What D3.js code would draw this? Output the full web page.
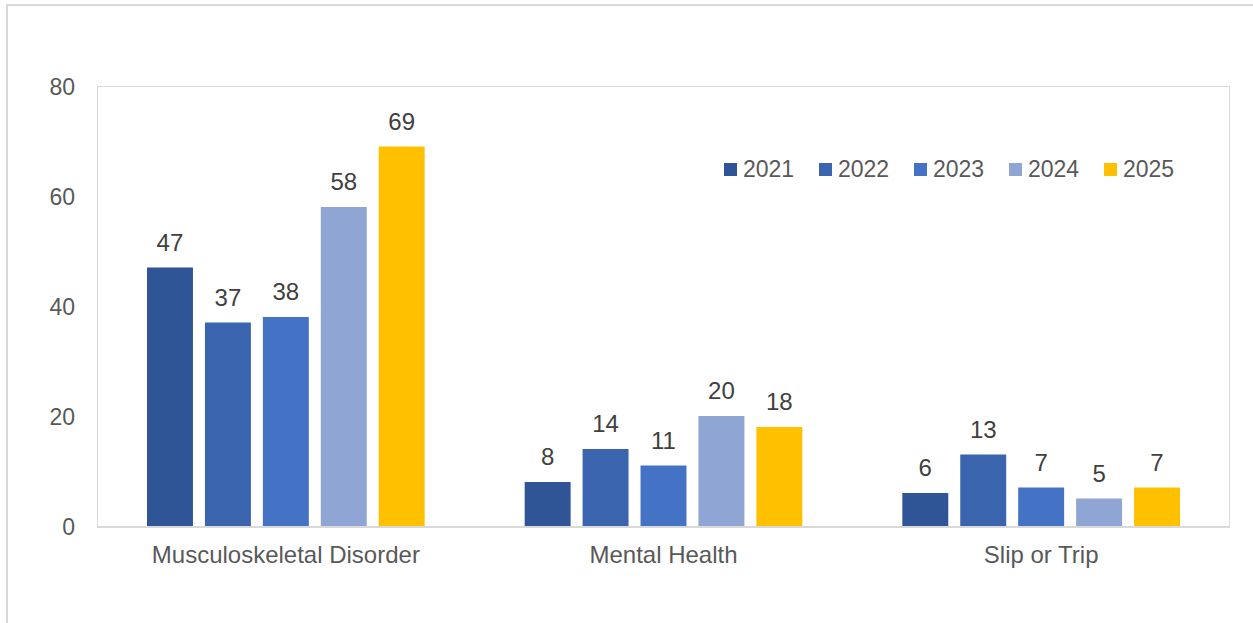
<!DOCTYPE html>
<html>
<head>
<meta charset="utf-8">
<script src="https://cdn.jsdelivr.net/npm/d3@7"></script>
<style>
  html, body { margin: 0; padding: 0; background: #fff; }
  svg { display: block; font-family: "Liberation Sans", Arial, sans-serif; }
</style>
</head>
<body>
<svg id="chart" width="1253" height="623"></svg>
<script>
// Incident counts by category and year
const categories = ["Musculoskeletal Disorder", "Mental Health", "Slip or Trip"];
const years = ["2021", "2022", "2023", "2024", "2025"];
const values2021 = [47, 8, 6];
const values2022 = [37, 14, 13];
const values2023 = [38, 11, 7];
const values2024 = [58, 20, 5];
const values2025 = [69, 18, 7];
const yTicks = [0, 20, 40, 60, 80];
const colors = ["#2F5597", "#3A64AD", "#4472C4", "#8FA5D4", "#FFC000"];

const seriesValues = [values2021, values2022, values2023, values2024, values2025];
const rows = categories.map((c, i) => ({
  category: c,
  values: years.map((y, j) => ({ year: y, value: seriesValues[j][i], color: colors[j] }))
}));

const svg = d3.select("#chart");
const plot = { left: 97, right: 1230, top: 86, bottom: 526 };

// Outer chart frame
svg.append("path")
  .attr("d", `M7,623 L7,5 L1253,5`)
  .attr("fill", "none")
  .attr("stroke", "#d9d9d9")
  .attr("stroke-width", 2);

const x0 = d3.scaleBand().domain(categories).range([plot.left, plot.right]).padding(0);
const gapHalf = 50;
const x1 = d3.scaleBand().domain(years)
  .range([gapHalf, x0.bandwidth() - gapHalf])
  .paddingInner(12 / 58).paddingOuter(0);
const y = d3.scaleLinear().domain([0, 80]).range([plot.bottom, plot.top]);

// Plot area border
svg.append("rect")
  .attr("x", plot.left + 0.5).attr("y", plot.top + 0.5)
  .attr("width", plot.right - plot.left - 1).attr("height", plot.bottom - plot.top)
  .attr("fill", "none").attr("stroke", "#d9d9d9").attr("stroke-width", 1);

// Y axis labels
const yAxis = d3.axisLeft(y).tickValues(yTicks).tickSize(0).tickPadding(0);
const yg = svg.append("g").attr("transform", `translate(75,0)`).call(yAxis);
yg.select(".domain").remove();
yg.selectAll("text")
  .attr("fill", "#595959").attr("font-size", 23)
  .attr("font-family", "Liberation Sans, Arial, sans-serif")
  .attr("dy", "0.35em");

// Bars
const groups = svg.append("g").selectAll("g").data(rows).join("g")
  .attr("transform", d => `translate(${x0(d.category)},0)`);

groups.selectAll("rect").data(d => d.values).join("rect")
  .attr("x", d => x1(d.year))
  .attr("y", d => y(d.value))
  .attr("width", x1.bandwidth())
  .attr("height", d => y(0) - y(d.value))
  .attr("fill", d => d.color);

groups.selectAll("text.val").data(d => d.values).join("text")
  .attr("class", "val")
  .attr("x", d => x1(d.year) + x1.bandwidth() / 2)
  .attr("y", d => y(d.value) - 17)
  .attr("text-anchor", "middle")
  .attr("fill", "#404040")
  .attr("font-size", 24)
  .text(d => d.value);

// X axis line and category labels
svg.append("line")
  .attr("x1", plot.left).attr("x2", plot.right)
  .attr("y1", plot.bottom + 1).attr("y2", plot.bottom + 1)
  .attr("stroke", "#d9d9d9").attr("stroke-width", 2);

const xAxis = d3.axisBottom(x0).tickSize(0).tickPadding(0);
const xg = svg.append("g").attr("transform", `translate(0,${plot.bottom})`).call(xAxis);
xg.select(".domain").remove();
xg.selectAll("text")
  .attr("fill", "#595959").attr("font-size", 24)
  .attr("font-family", "Liberation Sans, Arial, sans-serif")
  .attr("dy", null)
  .attr("y", 37);

// Legend
const legend = svg.append("g").attr("transform", "translate(724,163)");
const items = legend.selectAll("g").data(years).join("g")
  .attr("transform", (d, i) => `translate(${i * 95},0)`);
items.append("rect").attr("width", 13).attr("height", 13)
  .attr("fill", (d, i) => colors[i]);
items.append("text").attr("x", 19).attr("y", 14)
  .attr("fill", "#595959").attr("font-size", 23)
  .text(d => d);
</script>
</body>
</html>
